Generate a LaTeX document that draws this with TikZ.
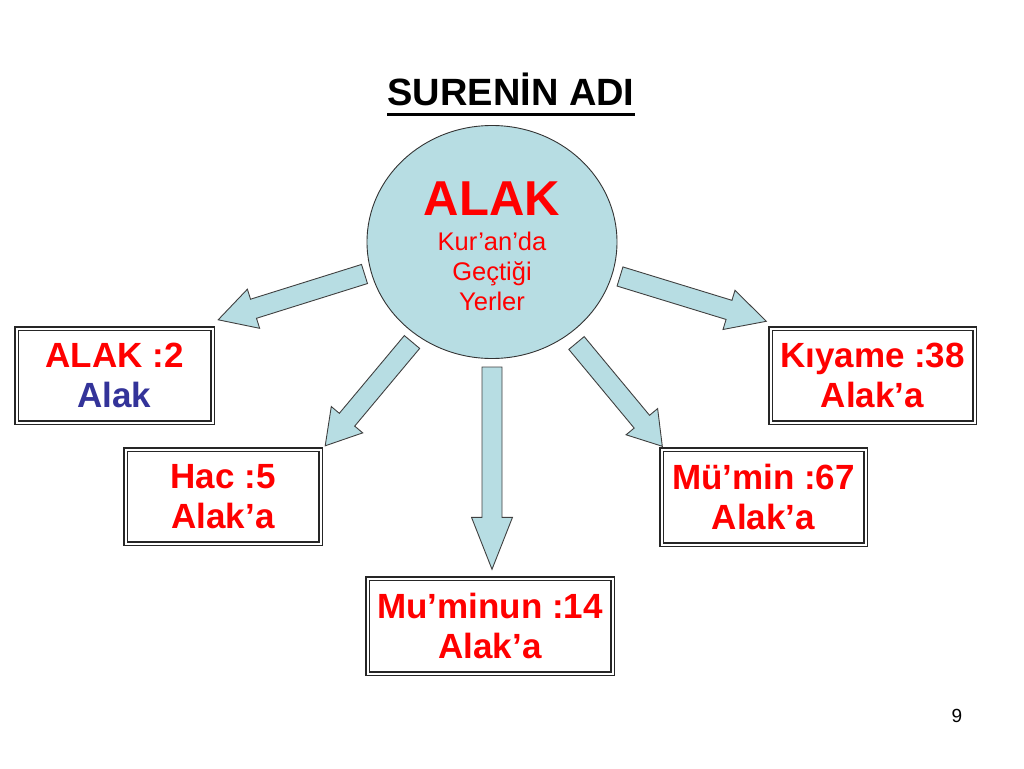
\documentclass[tikz,border=0pt]{standalone}
\usepackage{fontspec}
\setmainfont{Liberation Sans}
\usepackage[dvipsnames]{xcolor}
\usepackage{tikz}
\usetikzlibrary{arrows}
\usetikzlibrary{shapes,positioning,calc}
\definecolor{PaleBlue}{RGB}{183,221,227}
\definecolor{AlakBlue}{RGB}{51,51,153}
\definecolor{AlakRed}{RGB}{255,0,0}
% block arrow: tail, tip, head length
\newcommand{\blockarrow}[3]{%
	\coordinate (hb) at ($(#2)!#3!(#1)$);
	\draw[fill=PaleBlue, draw=black!75, line width=0.9pt, line join=miter]
		($(#1)!10pt!90:(#2)$) -- ($(hb)!10pt!90:(#2)$) -- ($(hb)!20.5pt!90:(#2)$) -- (#2)
		-- ($(hb)!20.5pt!-90:(#2)$) -- ($(hb)!10pt!-90:(#2)$) -- ($(#1)!10pt!-90:(#2)$) -- cycle;
}
\begin{document}
\begin{tikzpicture}[x=1pt, y=-1pt,
	box/.style={draw=black!85, double=white, line width=1.4pt, double distance=2pt, fill=white, align=center, text=AlakRed, inner sep=0pt, font=\fontsize{35}{40}\selectfont\bfseries}]
			\useasboundingbox (0,0) rectangle (1024,768);
			% title
			\node[anchor=base, inner sep=0pt, font=\fontsize{38}{44}\selectfont\bfseries] (title) at (511,105) {SURENİN ADI};
			\draw[line width=3pt] ([yshift=-9.5pt]title.base west) -- ([yshift=-9.5pt]title.base east);
			% centre
			\node[ellipse, draw=black!80, fill=PaleBlue, line width=0.9pt, minimum width=250pt, minimum height=233pt, inner sep=0pt] (circ) at (492,242) {};
			\node[anchor=base, inner sep=0pt, text=AlakRed, font=\fontsize{49}{55}\selectfont\bfseries] (alak) at (492,215) {ALAK};
			\node[anchor=north, inner sep=0pt, text=AlakRed, align=center, font=\fontsize{25.5}{30}\selectfont] (yerler) at (492,232) {Kur’an’da\\Geçtiği\\Yerler};
			% boxes
			\node[box, minimum width=196pt, minimum height=94pt] (b2) at (114.5,375.5) {ALAK :2\\\textcolor{AlakBlue}{Alak}};
			\node[box, minimum width=195pt, minimum height=94pt] (b5) at (223,496.5) {Hac :5\\Alak’a};
			\node[box, minimum width=245pt, minimum height=95pt] (b14) at (490,626) {Mu’minun :14\\Alak’a};
			\node[box, minimum width=204pt, minimum height=95pt] (b67) at (763.5,497) {Mü’min :67\\Alak’a};
			\node[box, minimum width=204pt, minimum height=94pt] (b38) at (872.5,375.5) {Kıyame :38\\Alak’a};
			% arrows
			\coordinate (t2) at (364.5,274);
			\coordinate (t5) at (412,342);
			\coordinate (t14) at (492,367);
			\coordinate (t67) at (576.5,343);
			\coordinate (t38) at (620,276.5);
			\coordinate (p2) at ([shift={(5,-8)}]b2.north east);
			\coordinate (p5) at ([shift={(4,-3)}]b5.north east);
			\coordinate (p14) at ([shift={(2,-8.5)}]b14.north);
			\coordinate (p67) at ([shift={(1.5,-2.5)}]b67.north west);
			\coordinate (p38) at ([shift={(-3.5,-6.5)}]b38.north west);
			\blockarrow{t2}{p2}{37pt}
			\blockarrow{t5}{p5}{34pt}
			\blockarrow{t14}{p14}{52pt}
			\blockarrow{t67}{p67}{32pt}
			\blockarrow{t38}{p38}{39pt}
			% page number
			\node[font=\fontsize{19}{22}\selectfont] (pnum) at (957,716) {9};
		\end{tikzpicture}
\end{document}
